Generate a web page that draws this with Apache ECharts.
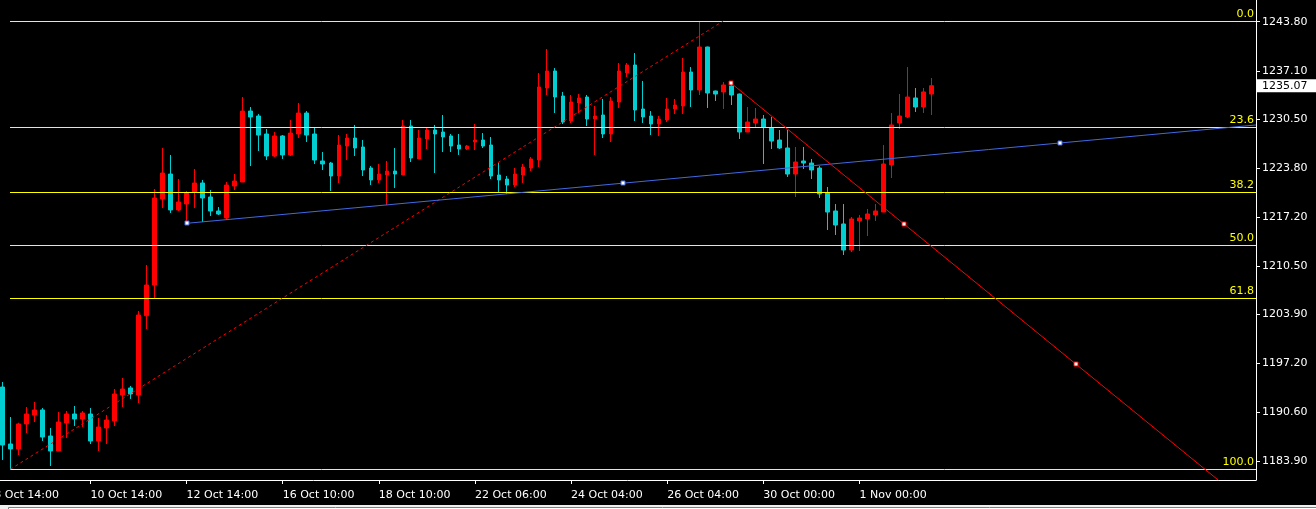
<!DOCTYPE html>
<html><head><meta charset="utf-8">
<script src="https://cdn.jsdelivr.net/npm/echarts@6/dist/echarts.min.js"></script>
<style>html,body{margin:0;padding:0;background:#000;overflow:hidden}#c{width:1316px;height:509px}</style>
</head><body><div id="c"></div>
<script>
// H4 candles, oldest first: [open, close, low, high]
const candles = [
[1193.99,1186.08,1184.04,1194.67],[1186.22,1185.54,1182.77,1189.90],[1185.54,1188.95,1184.72,1189.12],[1188.95,1190.31,1187.72,1191.26],
[1190.17,1190.86,1189.22,1191.95],[1190.86,1187.17,1186.63,1191.13],[1187.31,1185.27,1183.22,1188.40],[1185.27,1189.22,1185.27,1190.58],
[1189.08,1190.31,1187.04,1190.72],[1190.31,1189.63,1188.67,1191.40],[1189.63,1190.45,1188.54,1190.72],[1190.31,1186.63,1186.22,1191.13],
[1186.63,1188.54,1185.27,1189.76],[1188.40,1189.49,1186.22,1190.17],[1189.36,1193.04,1188.67,1193.72],[1192.90,1193.72,1191.26,1195.22],
[1193.86,1193.04,1192.36,1194.13],[1192.90,1203.81,1191.81,1204.35],[1203.71,1207.90,1201.90,1210.63],[1207.90,1219.76,1205.99,1220.99],
[1219.63,1223.17,1218.40,1226.58],[1223.03,1218.13,1217.72,1225.63],[1218.13,1219.22,1217.99,1222.35],[1218.94,1220.44,1216.35,1220.72],
[1220.58,1221.81,1218.40,1223.72],[1221.81,1219.76,1216.49,1222.22],[1219.90,1217.99,1217.31,1220.85],[1217.99,1217.58,1217.44,1218.53],
[1217.03,1221.53,1216.76,1221.94],[1221.40,1222.08,1220.85,1223.03],[1221.94,1231.62,1221.94,1233.53],[1231.62,1230.81,1224.12,1232.17],
[1230.94,1228.35,1226.17,1231.22],[1228.49,1225.49,1224.94,1229.17],[1225.49,1228.22,1225.35,1228.76],[1228.22,1225.63,1225.08,1228.35],
[1225.63,1228.62,1225.49,1230.40],[1228.49,1231.35,1227.94,1232.72],[1231.35,1228.35,1227.40,1231.62],[1228.49,1224.94,1224.40,1229.31],
[1224.81,1224.40,1223.58,1226.03],[1224.53,1222.76,1220.72,1224.67],[1222.76,1226.99,1221.81,1228.35],[1226.85,1227.94,1224.94,1228.49],
[1227.94,1226.58,1225.49,1229.72],[1226.72,1223.58,1222.76,1227.67],[1223.85,1222.22,1221.53,1224.12],[1222.22,1223.03,1221.81,1224.40],
[1222.90,1223.44,1218.81,1224.81],[1223.44,1223.03,1221.13,1226.58],[1222.90,1229.58,1222.90,1230.40],[1229.58,1225.22,1224.67,1230.40],
[1225.08,1227.94,1225.08,1229.03],[1227.81,1229.03,1226.44,1229.31],[1229.03,1228.49,1223.17,1229.72],[1228.76,1228.08,1226.03,1231.08],
[1228.22,1226.85,1226.03,1228.49],[1226.99,1226.44,1225.63,1228.49],[1226.44,1226.85,1226.31,1226.99],[1227.40,1227.67,1226.31,1229.85],
[1227.67,1226.85,1226.58,1228.62],[1226.99,1222.76,1222.35,1228.08],[1222.90,1222.22,1220.58,1224.53],[1222.35,1221.53,1220.31,1222.76],
[1221.53,1223.03,1221.26,1223.85],[1222.90,1223.99,1221.81,1224.40],[1223.85,1225.08,1223.44,1225.35],[1224.94,1234.90,1223.99,1236.81],
[1234.76,1237.08,1233.81,1240.08],[1237.08,1233.53,1231.35,1237.49],[1233.67,1230.12,1229.85,1234.22],[1230.26,1232.85,1229.99,1233.81],
[1232.72,1233.40,1231.35,1233.94],[1233.53,1230.53,1229.58,1233.81],[1230.53,1230.94,1225.63,1232.31],[1231.08,1228.49,1227.94,1233.26],
[1228.49,1232.99,1227.40,1233.53],[1232.85,1237.08,1232.03,1238.17],[1236.81,1237.90,1236.26,1238.17],[1237.90,1231.76,1230.26,1239.53],
[1231.90,1230.81,1229.99,1235.72],[1230.94,1229.85,1228.35,1231.62],[1229.85,1230.53,1228.22,1230.94],[1230.40,1231.90,1230.12,1233.40],
[1231.90,1232.44,1231.22,1233.26],[1232.31,1236.94,1231.22,1238.85],[1236.94,1234.49,1232.17,1237.62],[1234.49,1240.35,1233.81,1243.90],
[1240.35,1234.08,1232.03,1240.40],[1234.35,1233.94,1232.99,1234.40],[1234.22,1235.17,1231.90,1235.58],[1235.03,1233.81,1232.44,1235.44],
[1233.94,1228.76,1227.81,1234.00],[1228.76,1230.12,1228.76,1232.17],[1229.99,1230.53,1229.44,1232.03],[1230.53,1229.44,1224.40,1231.08],
[1229.31,1227.53,1226.44,1230.81],[1227.67,1226.58,1226.44,1229.03],[1226.58,1223.03,1222.63,1229.03],[1223.03,1224.67,1219.90,1226.72],
[1224.81,1224.53,1223.72,1226.72],[1224.53,1223.58,1222.35,1225.08],[1223.85,1220.31,1219.76,1224.12],[1220.44,1217.85,1215.40,1221.26],
[1217.99,1216.08,1214.72,1218.94],[1216.22,1212.67,1211.99,1218.94],[1212.67,1216.90,1212.40,1217.17],[1216.63,1217.03,1212.53,1217.44],
[1216.90,1217.58,1214.58,1218.26],[1217.44,1217.99,1216.63,1218.94],[1217.85,1224.40,1217.85,1226.99],[1224.26,1229.72,1222.49,1231.35],
[1229.99,1230.94,1229.17,1233.94],[1230.81,1233.53,1230.67,1237.62],[1233.40,1232.17,1231.49,1234.76],[1232.17,1234.22,1231.35,1234.76],
[1233.94,1235.07,1231.08,1236.12]
];
// time axis labels, one every 12 bars (first one falls one bar before the first visible candle)
const timeLabels = ['8 Oct 14:00','10 Oct 14:00','12 Oct 14:00','16 Oct 10:00','18 Oct 10:00','22 Oct 06:00','24 Oct 04:00','26 Oct 04:00','30 Oct 00:00','1 Nov 00:00'];
const barsPerLabel = 12;
const totalSlots = 158;        // one lead slot + candles + empty right shift
// price scale tick labels
const priceTicks = [1243.80,1237.10,1230.50,1223.80,1217.20,1210.50,1203.90,1197.20,1190.60,1183.90];
const priceMin = 1181.31, priceMax = 1246.76;
const lastPrice = 1235.07;
// Fibonacci retracement: anchors [candle index, price]
const fibStart = [1, 1182.77];
const fibEnd = [90, 1243.90];
const fibLevels = [0.0, 23.6, 38.2, 50.0, 61.8, 100.0];
// Trend lines (rays): [candle index, price]
const blueTrend = [[23, 1216.31], [132, 1227.26]];
const redTrend = [[91, 1235.40], [134, 1197.13]];

const FONT = 'DejaVu Sans';
const slotLabel = [];
for (let i = 0; i < totalSlots; i++) {
  const j = i / barsPerLabel;
  slotLabel.push(i % barsPerLabel === 0 && j < timeLabels.length ? timeLabels[j] : '');
}
const cats = slotLabel.map((_, i) => 's' + i);
const seriesData = [['-','-','-','-']].concat(candles);

const chart = echarts.init(document.getElementById('c'), null, {renderer: 'canvas'});

function renderDrawings(params, api) {
  const cs = params.coordSys;
  const xR = cs.x + cs.width, yT = cs.y, yB = cs.y + cs.height;
  const P = (k, price) => api.coord([k + 1, price]);
  const ray = (a, b) => {
    const dx = b[0] - a[0], dy = b[1] - a[1];
    let t = (xR - a[0]) / dx;
    const y = a[1] + dy * t;
    if (y > yB) t = (yB - a[1]) / dy; else if (y < yT) t = (yT - a[1]) / dy;
    return [a[0] + dx * t, a[1] + dy * t];
  };
  const anchor = (p, col) => ({type: 'rect', shape: {x: Math.round(p[0]) - 2, y: Math.round(p[1]) - 2, width: 4, height: 4},
    style: {fill: '#ffffff', stroke: col, lineWidth: 1}});
  const ch = [];
  // fib levels
  const x0 = P(fibStart[0], fibStart[1])[0];
  fibLevels.forEach(l => {
    const price = fibEnd[1] + (fibStart[1] - fibEnd[1]) * l / 100;
    const y = Math.round(P(0, price)[1]) + 0.5;
    ch.push({type: 'line', shape: {x1: Math.round(x0), y1: y, x2: xR, y2: y}, style: {stroke: '#ffff00', lineWidth: 1}});
    ch.push({type: 'text', style: {text: l.toFixed(1), x: xR - 2, y: y - 1.5, align: 'right', verticalAlign: 'bottom',
      fill: '#ffff00', fontSize: 11, fontFamily: FONT}});
  });
  // fib diagonal (dashed)
  const fa = P(fibStart[0], fibStart[1]), fb = P(fibEnd[0], fibEnd[1]);
  ch.push({type: 'line', shape: {x1: fa[0], y1: fa[1], x2: fb[0], y2: fb[1]}, style: {stroke: '#ff0000', lineWidth: 1, lineDash: [3, 3]}});
  // blue trend ray
  const ba = P(blueTrend[0][0], blueTrend[0][1]), bb = P(blueTrend[1][0], blueTrend[1][1]);
  const be = ray(ba, bb);
  ch.push({type: 'line', shape: {x1: ba[0], y1: ba[1], x2: be[0], y2: be[1]}, style: {stroke: '#4169e1', lineWidth: 1}});
  // red trend ray
  const ra = P(redTrend[0][0], redTrend[0][1]), rb = P(redTrend[1][0], redTrend[1][1]);
  const re = ray(ra, rb);
  ch.push({type: 'line', shape: {x1: ra[0], y1: ra[1], x2: re[0], y2: re[1]}, style: {stroke: '#ff0000', lineWidth: 1}});
  // anchors (start, middle, end)
  [[ba, bb, '#4169e1'], [ra, rb, '#ff0000']].forEach(([a, b, c]) => {
    ch.push(anchor(a, c));
    ch.push(anchor([(a[0] + b[0]) / 2, (a[1] + b[1]) / 2], c));
    ch.push(anchor(b, c));
  });
  return {type: 'group', children: ch};
}

chart.setOption({
  backgroundColor: '#000000',
  animation: false,
  grid: {left: -9.7, right: 60, top: 0, bottom: 29, containLabel: false, outerBoundsMode: 'none'},
  xAxis: {
    type: 'category', data: cats, boundaryGap: true,
    axisLine: {show: true, onZero: false, lineStyle: {color: '#ffffff', width: 1}},
    axisTick: {show: true, alignWithLabel: true, length: 4, lineStyle: {color: '#ffffff'},
      interval: (i) => slotLabel[i] !== ''},
    axisLabel: {show: true, color: '#ffffff', fontFamily: FONT, fontSize: 11, align: 'left', margin: 10,
      interval: (i) => slotLabel[i] !== '', formatter: (v, i) => slotLabel[i]},
    splitLine: {show: false}
  },
  yAxis: [{
    type: 'value', position: 'right', min: priceMin, max: priceMax, scale: true,
    axisLine: {show: true, lineStyle: {color: '#ffffff', width: 1}},
    axisTick: {show: true, length: 4, lineStyle: {color: '#ffffff'}, customValues: priceTicks},
    axisLabel: {show: true, color: '#ffffff', fontFamily: FONT, fontSize: 11, margin: 6,
      customValues: priceTicks, formatter: v => v.toFixed(2)},
    splitLine: {show: false}
  }, {
    type: 'value', position: 'right', min: priceMin, max: priceMax, scale: true,
    axisLine: {show: false},
    axisTick: {show: true, length: 4, lineStyle: {color: '#ffffff'}, customValues: [lastPrice]},
    axisLabel: {show: true, color: '#000000', backgroundColor: '#ffffff', fontFamily: FONT, fontSize: 11,
      lineHeight: 12, padding: [1, 9, 0, 5], margin: 1, customValues: [lastPrice], formatter: v => v.toFixed(2)},
    splitLine: {show: false}
  }],
  series: [{
    type: 'candlestick', data: seriesData, barWidth: 4, yAxisIndex: 0,
    itemStyle: {color: '#ff0000', color0: '#00ced1', borderColor: '#ff0000', borderColor0: '#00ced1', borderWidth: 1},
    emphasis: {disabled: true}, silent: true
  }, {
    type: 'custom', data: [0], renderItem: renderDrawings, silent: true, z: 5, clip: false
  }],
  graphic: [
    {type: 'rect', left: 0, top: 505, shape: {width: 1316, height: 4}, style: {fill: '#f0f0f0'}, silent: true},
    {type: 'rect', left: 8, top: 507, shape: {width: 1308, height: 2}, style: {fill: '#ffffff', stroke: '#808080', lineWidth: 1}, silent: true}
  ]
});
</script></body></html>
